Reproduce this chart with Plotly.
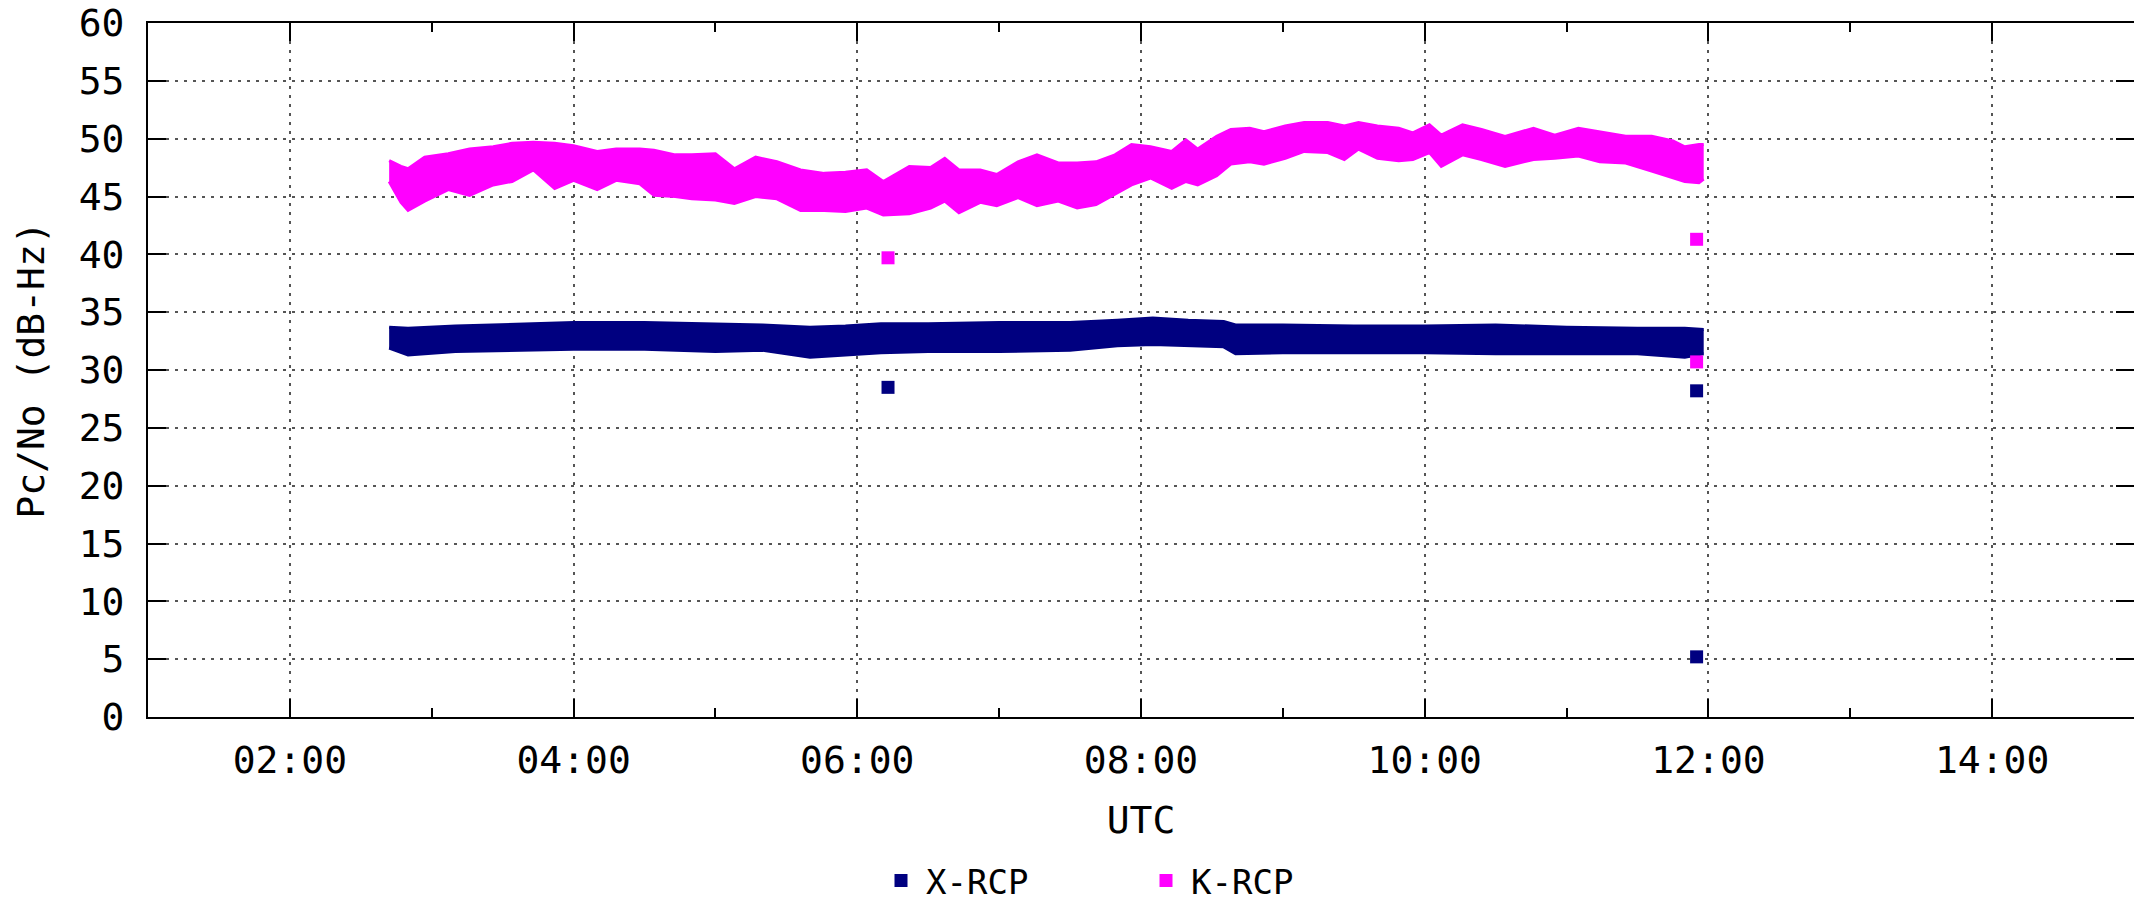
import plotly.graph_objects as go

DAY = "2020-01-01 "

# K-RCP band (upper / lower envelope of the dense scatter, dB-Hz)
k_times = ["02:42", "02:47", "02:50", "02:57", "03:07", "03:16", "03:26", "03:34", "03:43", "03:52",
           "04:00", "04:10", "04:18", "04:28", "04:34", "04:43", "04:50", "05:00", "05:08", "05:17",
           "05:26", "05:36", "05:46", "05:55", "06:04", "06:11", "06:22", "06:31", "06:37", "06:43",
           "06:52", "06:59", "07:08", "07:16", "07:25", "07:33", "07:41", "07:49", "07:56", "08:04",
           "08:13", "08:19", "08:24", "08:32", "08:38", "08:46", "08:52", "09:01", "09:09", "09:19",
           "09:26", "09:32", "09:40", "09:49", "09:55", "10:02", "10:07", "10:16", "10:24", "10:34",
           "10:46", "10:55", "11:05", "11:14", "11:25", "11:36", "11:45", "11:50", "11:56", "11:58"]
k_hi = [48.1, 47.6, 47.4, 48.4, 48.7, 49.1, 49.3, 49.6, 49.7, 49.6,
        49.4, 48.9, 49.1, 49.1, 49.0, 48.6, 48.6, 48.7, 47.4, 48.4,
        48.0, 47.3, 47.0, 47.1, 47.3, 46.3, 47.6, 47.5, 48.3, 47.3,
        47.3, 46.9, 48.0, 48.6, 47.9, 47.9, 48.0, 48.6, 49.5, 49.3,
        48.9, 49.9, 49.1, 50.2, 50.8, 50.9, 50.6, 51.1, 51.4, 51.4,
        51.1, 51.4, 51.1, 50.9, 50.5, 51.2, 50.3, 51.2, 50.8, 50.2,
        50.9, 50.3, 50.9, 50.6, 50.2, 50.2, 49.8, 49.3, 49.5, 49.5]
k_lo = [46.3, 44.5, 43.8, 44.6, 45.6, 45.1, 46.0, 46.3, 47.3, 45.7,
        46.4, 45.6, 46.4, 46.1, 45.1, 45.0, 44.8, 44.7, 44.4, 45.0,
        44.8, 43.8, 43.8, 43.7, 44.0, 43.4, 43.5, 44.0, 44.6, 43.6,
        44.5, 44.2, 44.9, 44.2, 44.6, 44.0, 44.3, 45.2, 46.0, 46.6,
        45.7, 46.3, 46.0, 46.8, 47.8, 48.0, 47.8, 48.3, 48.9, 48.8,
        48.2, 49.1, 48.3, 48.1, 48.2, 48.8, 47.6, 48.6, 48.2, 47.6,
        48.2, 48.3, 48.5, 48.0, 47.9, 47.2, 46.6, 46.3, 46.2, 46.5]

# X-RCP band
x_times = ["02:42", "02:50", "03:10", "03:30", "04:00", "04:30", "05:00", "05:20", "05:40", "05:55",
           "06:10", "06:30", "07:00", "07:30", "07:50", "08:05", "08:20", "08:35", "08:40", "09:00",
           "09:30", "10:00", "10:30", "11:00", "11:30", "11:50", "11:58"]
x_hi = [33.7, 33.6, 33.8, 33.9, 34.1, 34.1, 34.0, 33.9, 33.7, 33.8,
        34.0, 34.0, 34.1, 34.1, 34.3, 34.5, 34.3, 34.2, 33.9, 33.9,
        33.8, 33.8, 33.9, 33.7, 33.6, 33.6, 33.5]
x_lo = [31.9, 31.3, 31.6, 31.7, 31.8, 31.8, 31.6, 31.7, 31.1, 31.3,
        31.5, 31.6, 31.6, 31.7, 32.1, 32.2, 32.1, 32.0, 31.4, 31.5,
        31.5, 31.5, 31.4, 31.4, 31.4, 31.1, 31.4]

# isolated points
x_out_times = ["06:13", "11:55", "11:55"]
x_out_vals = [28.5, 28.2, 5.2]
k_out_times = ["06:13", "11:55", "11:55"]
k_out_vals = [39.7, 41.3, 30.7]

y_ticks = list(range(0, 61, 5))

NAVY = "#000080"
PINK = "#ff00ff"
FONT = "DejaVu Sans Mono"
FS = 38


def ts(lst):
    return [DAY + t for t in lst]


fig = go.Figure()

for times, lo, hi, col in [(x_times, x_lo, x_hi, NAVY), (k_times, k_lo, k_hi, PINK)]:
    fig.add_trace(go.Scatter(x=ts(times), y=lo, mode="lines", line=dict(color=col, width=3),
                             showlegend=False, hoverinfo="skip"))
    fig.add_trace(go.Scatter(x=ts(times), y=hi, mode="lines", line=dict(color=col, width=3),
                             fill="tonexty", fillcolor=col, showlegend=False, hoverinfo="skip"))

fig.add_trace(go.Scatter(x=ts(x_out_times), y=x_out_vals, mode="markers", name="X-RCP",
                         marker=dict(symbol="square", size=13, color=NAVY)))
fig.add_trace(go.Scatter(x=ts(k_out_times), y=k_out_vals, mode="markers", name="K-RCP",
                         marker=dict(symbol="square", size=13, color=PINK)))

grid = dict(showgrid=True, gridcolor="#555555", gridwidth=2, griddash="3px,6px")

fig.update_xaxes(
    type="date", range=[DAY + "01:00", DAY + "15:00"],
    tick0=DAY + "00:00", dtick=7200000, tickformat="%H:%M",
    ticks="inside", ticklen=18, tickwidth=2, tickcolor="black",
    minor=dict(ticks="inside", ticklen=9, tickwidth=2, tickcolor="black", dtick=3600000, showgrid=False),
    showline=True, linecolor="black", linewidth=2, mirror="ticks",
    zeroline=False, automargin=False, ticklabelstandoff=8,
    title=dict(text="UTC", font=dict(family=FONT, size=FS, color="black"), standoff=26),
    tickfont=dict(family=FONT, size=FS, color="black"),
    **grid,
)
fig.update_yaxes(
    range=[0, 60], tickvals=y_ticks,
    ticks="inside", ticklen=18, tickwidth=2, tickcolor="black",
    showline=True, linecolor="black", linewidth=2, mirror="ticks",
    zeroline=False, automargin=False, ticklabelstandoff=14,
    title=dict(text="Pc/No (dB-Hz)", font=dict(family=FONT, size=FS, color="black"), standoff=22),
    tickfont=dict(family=FONT, size=FS, color="black"),
    **grid,
)

fig.update_layout(
    width=2134, height=909,
    margin=dict(l=148, r=0, t=23, b=192, autoexpand=False),
    plot_bgcolor="white", paper_bgcolor="white",
    legend=dict(orientation="h", x=0.5, xanchor="center", y=-0.236, yanchor="middle",
                traceorder="normal", entrywidth=210,
                font=dict(family=FONT, size=34, color="black"), itemwidth=40),
    showlegend=True,
)

fig.write_html("out.html", config={"displayModeBar": False},
               post_script="document.body.style.margin='0';")
